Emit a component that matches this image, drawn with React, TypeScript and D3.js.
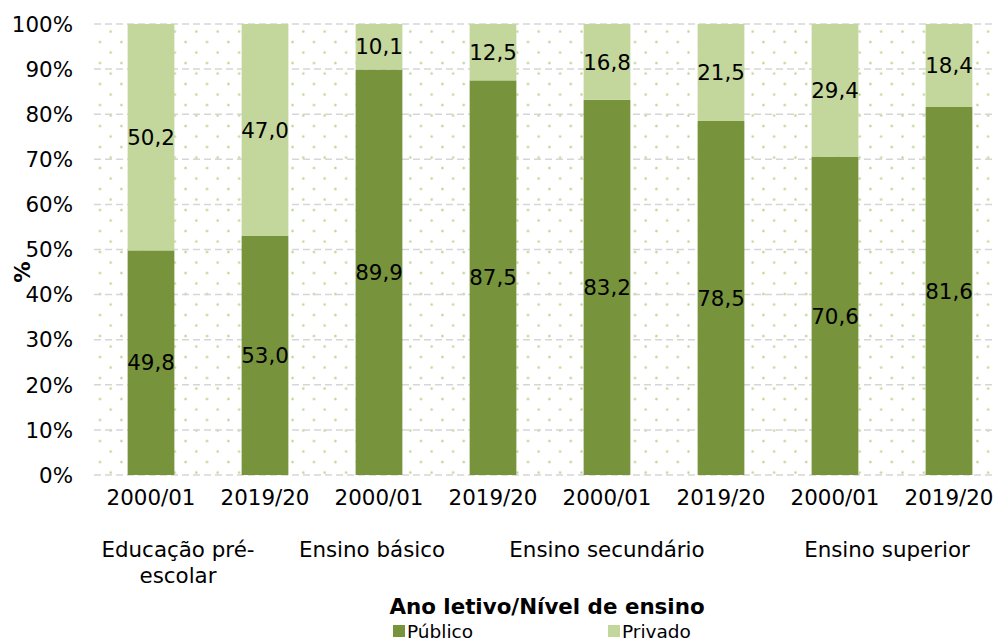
import React, { useEffect, useRef } from "react";
import * as d3 from "d3";

const years = ["2000/01", "2019/20", "2000/01", "2019/20", "2000/01", "2019/20", "2000/01", "2019/20"];
const groups = [["Educação pré-", "escolar"], ["Ensino básico"], ["Ensino secundário"], ["Ensino superior"]];
const publico = [49.8, 53.0, 89.9, 87.5, 83.2, 78.5, 70.6, 81.6];
const privado = [50.2, 47.0, 10.1, 12.5, 16.8, 21.5, 29.4, 18.4];
const yTicks = [0, 10, 20, 30, 40, 50, 60, 70, 80, 90, 100];

const fmt = (v: number) => v.toFixed(1).replace(".", ",");

const App = () => {
  const svgRef = useRef<SVGSVGElement>(null);

  useEffect(() => {
    const w = 994;
    const h = 642;
    const font = "'DejaVu Sans', Verdana, sans-serif";
    const fs = 21.4;
    const svg = d3.select(svgRef.current).attr("width", w).attr("height", h);
    svg.selectAll("*").remove();

    // scales
    const x = d3
      .scaleBand<number>()
      .domain(d3.range(years.length))
      .range([94, 1006])
      .paddingInner(0.59)
      .paddingOuter(0.295);
    const y = d3.scaleLinear().domain([0, 100]).range([475, 24]);

    // dotted background
    const pat = svg
      .append("defs")
      .append("pattern")
      .attr("id", "dots")
      .attr("patternUnits", "userSpaceOnUse")
      .attr("x", 94.65)
      .attr("y", 36.75)
      .attr("width", 21.4)
      .attr("height", 21);
    pat.append("circle").attr("cx", 5.35).attr("cy", 5.25).attr("r", 1.2).attr("fill", "#bdd390");
    pat.append("circle").attr("cx", 16.05).attr("cy", 15.75).attr("r", 1.2).attr("fill", "#bdd390");

    svg
      .append("rect")
      .attr("x", 94)
      .attr("y", y(100))
      .attr("width", w - 94)
      .attr("height", y(0) - y(100))
      .attr("fill", "url(#dots)");

    // gridlines
    svg
      .append("g")
      .selectAll("line")
      .data(yTicks)
      .join("line")
      .attr("x1", 94)
      .attr("x2", w)
      .attr("y1", (d) => y(d))
      .attr("y2", (d) => y(d))
      .attr("stroke", "#d6d6d6")
      .attr("stroke-width", 1.5)
      .attr("stroke-dasharray", "7,4");

    // y tick labels
    svg
      .append("g")
      .selectAll("text")
      .data(yTicks)
      .join("text")
      .attr("x", 73)
      .attr("y", (d) => y(d))
      .attr("dy", "0.36em")
      .attr("text-anchor", "end")
      .attr("font-family", font)
      .attr("font-size", fs)
      .attr("fill", "#000")
      .text((d) => d + "%");

    // bars
    const bars = svg.append("g");
    bars
      .selectAll("rect.pub")
      .data(publico)
      .join("rect")
      .attr("class", "pub")
      .attr("x", (_, i) => x(i)!)
      .attr("width", x.bandwidth())
      .attr("y", (d) => y(d))
      .attr("height", (d) => y(0) - y(d))
      .attr("fill", "#77933c");
    bars
      .selectAll("rect.priv")
      .data(privado)
      .join("rect")
      .attr("class", "priv")
      .attr("x", (_, i) => x(i)!)
      .attr("width", x.bandwidth())
      .attr("y", (d, i) => y(publico[i] + d))
      .attr("height", (d) => y(0) - y(d))
      .attr("fill", "#c3d69b");

    // value labels
    const lbl = svg
      .append("g")
      .attr("font-family", font)
      .attr("font-size", fs)
      .attr("text-anchor", "middle")
      .attr("fill", "#000");
    lbl
      .selectAll("text.pub")
      .data(publico)
      .join("text")
      .attr("class", "pub")
      .attr("x", (_, i) => x(i)! + x.bandwidth() / 2)
      .attr("y", (d) => y(d / 2))
      .attr("dy", "0.36em")
      .text((d) => fmt(d));
    lbl
      .selectAll("text.priv")
      .data(privado)
      .join("text")
      .attr("class", "priv")
      .attr("x", (_, i) => x(i)! + x.bandwidth() / 2)
      .attr("y", (d, i) => y(publico[i] + d / 2))
      .attr("dy", "0.36em")
      .text((d) => fmt(d));

    // x tick labels
    svg
      .append("g")
      .selectAll("text")
      .data(years)
      .join("text")
      .attr("x", (_, i) => x(i)! + x.bandwidth() / 2)
      .attr("y", 497)
      .attr("dy", "0.36em")
      .attr("text-anchor", "middle")
      .attr("font-family", font)
      .attr("font-size", fs)
      .text((d) => d);

    // group labels (Excel wraps/offsets these)
    const nudge = [-30, -64, -57, -5];
    const gl = svg
      .append("g")
      .selectAll("text")
      .data(groups)
      .join("text")
      .attr("text-anchor", "middle")
      .attr("font-family", font)
      .attr("font-size", fs);
    gl.each(function (lines, gi) {
      const cx = (x(gi * 2)! + x(gi * 2 + 1)! + x.bandwidth()) / 2 + nudge[gi];
      d3.select(this)
        .selectAll("tspan")
        .data(lines)
        .join("tspan")
        .attr("x", cx)
        .attr("y", (_, li) => 549 + li * 26)
        .attr("dy", "0.36em")
        .text((d) => d);
    });

    // axis titles
    svg
      .append("text")
      .attr("x", 547)
      .attr("y", 606)
      .attr("dy", "0.36em")
      .attr("text-anchor", "middle")
      .attr("font-family", font)
      .attr("font-size", fs)
      .attr("font-weight", "bold")
      .text("Ano letivo/Nível de ensino");

    svg
      .append("text")
      .attr("transform", "translate(22,272) rotate(-90)")
      .attr("dy", "0.36em")
      .attr("text-anchor", "middle")
      .attr("font-family", font)
      .attr("font-size", fs)
      .attr("font-weight", "bold")
      .text("%");

    // legend
    const legend = [
      { name: "Público", color: "#77933c", x: 393 },
      { name: "Privado", color: "#c3d69b", x: 608 },
    ];
    const lg = svg.append("g").selectAll("g").data(legend).join("g");
    lg.append("rect")
      .attr("x", (d) => d.x)
      .attr("y", 625)
      .attr("width", 12)
      .attr("height", 12)
      .attr("fill", (d) => d.color);
    lg.append("text")
      .attr("x", (d) => d.x + 14)
      .attr("y", 631)
      .attr("dy", "0.36em")
      .attr("font-family", font)
      .attr("font-size", 18.5)
      .text((d) => d.name);
  }, []);

  return (
    <div>
      <svg ref={svgRef} style={{ position: "absolute", left: 0, top: 0 }}></svg>
    </div>
  );
};

export default App;
